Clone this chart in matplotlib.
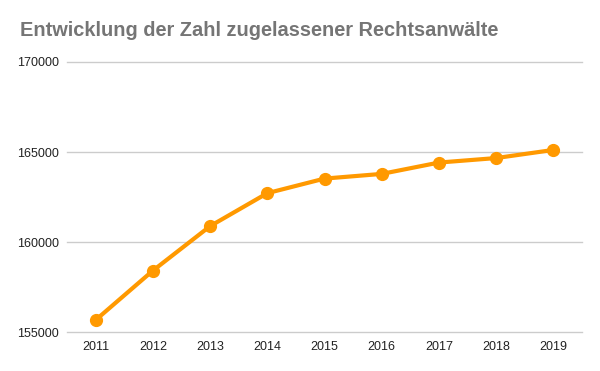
import matplotlib
matplotlib.use("Agg")
import matplotlib.pyplot as plt

years = ["2011", "2012", "2013", "2014", "2015", "2016", "2017", "2018", "2019"]
values = [155680, 158420, 160890, 162720, 163530, 163790, 164420, 164670, 165120]
yticks = [155000, 160000, 165000, 170000]
title = "Entwicklung der Zahl zugelassener Rechtsanwälte"

plt.rcParams['font.family'] = ['Liberation Sans', 'DejaVu Sans']

fig = plt.figure(figsize=(6, 3.71), dpi=100)
ax = fig.add_axes([67/600, 1-332.3/371, (582-67)/600, (332.3-62)/371])

x = list(range(len(years)))
ax.plot(x, values, color='#FF9900', linewidth=3, marker='o', markersize=8.5,
        solid_capstyle='round', zorder=3, clip_on=False)

ax.set_xlim(-0.5, len(years) - 0.5)
ax.set_ylim(155000, 170000)
ax.set_yticks(yticks)
ax.set_yticklabels([str(v) for v in yticks])
ax.set_xticks(x)
ax.set_xticklabels(years)
ax.grid(axis='y', color='#cccccc', linewidth=1)
for gl in ax.get_ygridlines():
    gl.set_clip_on(False)
ax.set_axisbelow(True)
for s in ax.spines.values():
    s.set_visible(False)
ax.tick_params(axis='both', length=0, labelsize=9, colors='#222222')
ax.tick_params(axis='y', pad=6)
ax.tick_params(axis='x', pad=6)

fig.text(20/600, 1-31/371, title, fontsize=14.4, fontweight='bold', color='#757575',
         va='center', ha='left')

fig.savefig('out.png', dpi=100)
